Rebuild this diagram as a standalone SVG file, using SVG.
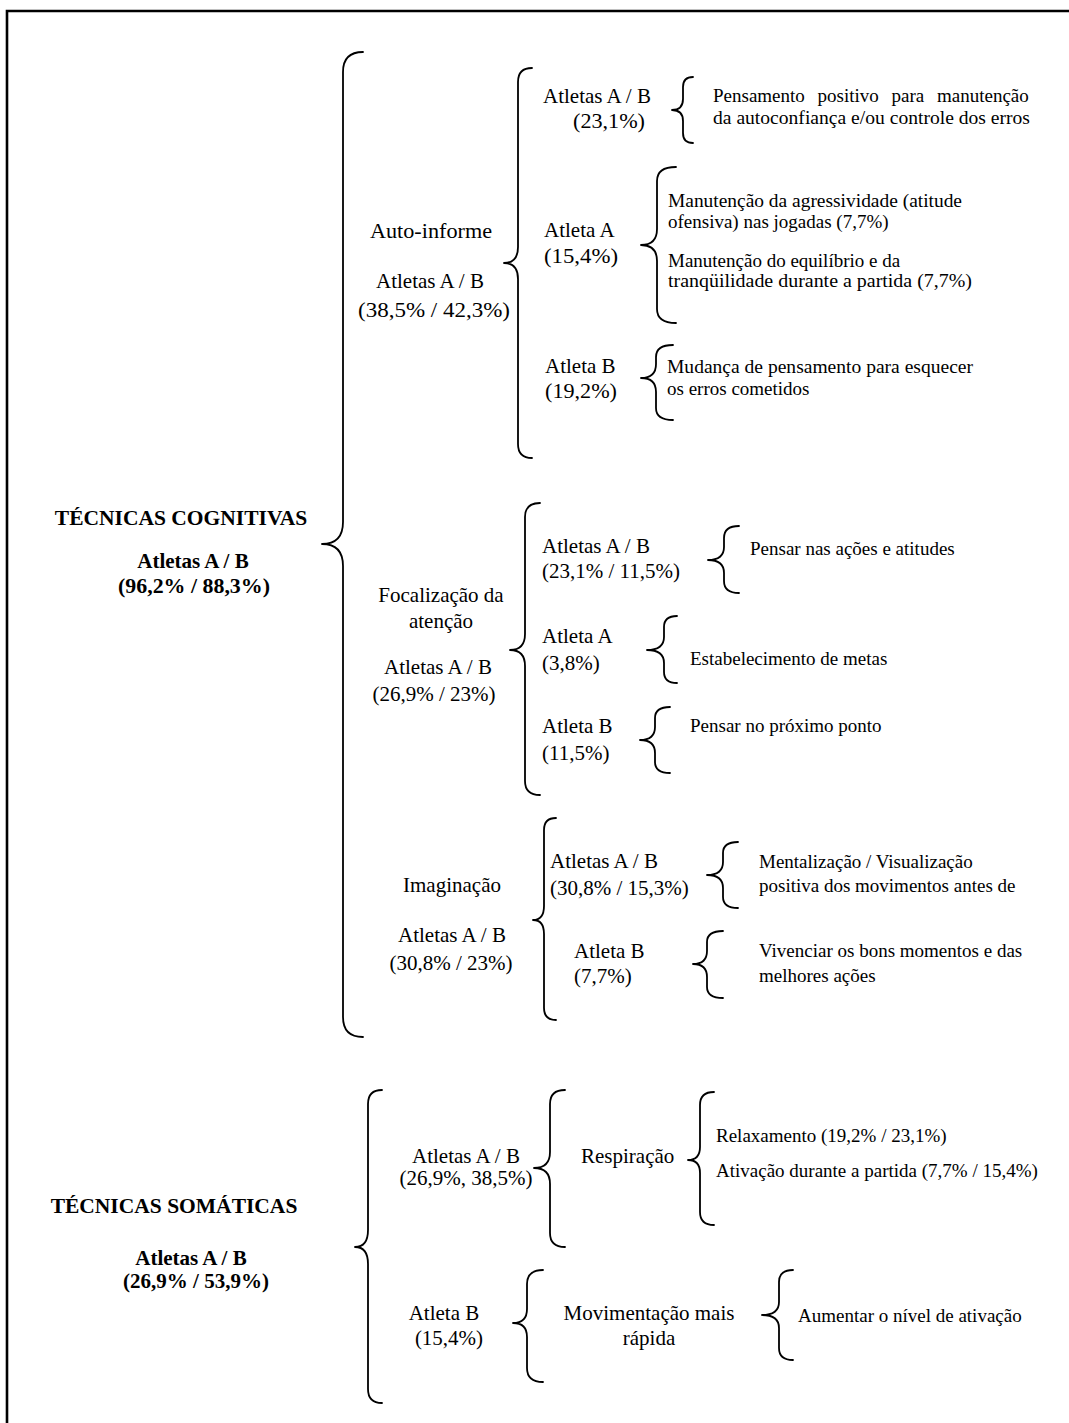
<svg xmlns="http://www.w3.org/2000/svg" width="1069" height="1423" viewBox="0 0 1069 1423">
<style>
text{font-family:"Liberation Serif","Times New Roman",serif;fill:#000}
.t{font-size:21px}
.s{font-size:19px}
.b{font-size:21px;font-weight:bold}
.h{font-size:21.5px;font-weight:bold}
.c{text-anchor:middle}
.br{fill:none;stroke:#000;stroke-width:1.8;stroke-linecap:round;stroke-linejoin:round}
.frame{fill:none;stroke:#000;stroke-width:2.6}
</style>
<rect width="1069" height="1423" fill="#fff"/>
<path class="frame" d="M7,1423 L7,11 L1069,11"/>
<g id="connectors">
<path class="br" d="M363,52 Q343,52 343,72 L343,522 Q343,544 322,544 Q343,544 343,566 L343,1017 Q343,1037 363,1037"/>
<path class="br" d="M532,68 Q518,68 518,82 L518,247 Q518,263 504,263 Q518,263 518,279 L518,444 Q518,458 532,458"/>
<path class="br" d="M693,77 Q683,77 683,87 L683,99 Q683,110 672,110 Q683,110 683,121 L683,133 Q683,143 693,143"/>
<path class="br" d="M676,167 Q657,167 657,181 L657,229 Q657,245 641,245 Q657,245 657,261 L657,309 Q657,323 676,323"/>
<path class="br" d="M673,345 Q656,345 656,357 L656,364 Q656,378 641,378 Q656,378 656,392 L656,408 Q656,420 673,420"/>
<path class="br" d="M540,503 Q525,503 525,517 L525,634 Q525,650 510,650 Q525,650 525,666 L525,781 Q525,795 540,795"/>
<path class="br" d="M739,526 Q724,526 724,538 L724,547 Q724,560 708,560 Q724,560 724,573 L724,581 Q724,593 739,593"/>
<path class="br" d="M677,616 Q664,616 664,627 L664,637 Q664,650 647,650 Q664,650 664,663 L664,672 Q664,683 677,683"/>
<path class="br" d="M670,707 Q655,707 655,718 L655,727 Q655,740 640,740 Q655,740 655,753 L655,762 Q655,773 670,773"/>
<path class="br" d="M556,818 Q544,818 544,830 L544,906 Q544,920 533,920 Q544,920 544,934 L544,1008 Q544,1020 556,1020"/>
<path class="br" d="M738,842 Q723,842 723,853 L723,862 Q723,875 707,875 Q723,875 723,888 L723,897 Q723,908 738,908"/>
<path class="br" d="M723,931 Q707,931 707,942 L707,951 Q707,964 693,964 Q707,964 707,977 L707,987 Q707,998 723,998"/>
<path class="br" d="M382,1090 Q368,1090 368,1104 L368,1230 Q368,1247 355,1247 Q368,1247 368,1264 L368,1389 Q368,1403 382,1403"/>
<path class="br" d="M565,1090 Q550,1090 550,1104 L550,1152 Q550,1168 534,1168 Q550,1168 550,1184 L550,1233 Q550,1247 565,1247"/>
<path class="br" d="M714,1092 Q700,1092 700,1105 L700,1147 Q700,1160 688,1160 Q700,1160 700,1173 L700,1212 Q700,1225 714,1225"/>
<path class="br" d="M543,1270 Q527,1270 527,1284 L527,1309 Q527,1323 513,1323 Q527,1323 527,1337 L527,1368 Q527,1382 543,1382"/>
<path class="br" d="M793,1270 Q779,1270 779,1282 L779,1302 Q779,1315 762,1315 Q779,1315 779,1328 L779,1348 Q779,1360 793,1360"/>
</g>
<g id="n-cognitivas">
<text class="h c" x="181" y="525">TÉCNICAS COGNITIVAS</text>
<text class="b c" x="193" y="568">Atletas A / B</text>
<text class="b c" x="194" y="593" textLength="152" lengthAdjust="spacingAndGlyphs">(96,2% / 88,3%)</text>
</g>
<g id="n-autoinforme">
<text class="t c" x="431" y="238" textLength="122" lengthAdjust="spacingAndGlyphs">Auto-informe</text>
<text class="t c" x="430" y="288">Atletas A / B</text>
<text class="t c" x="434" y="317" textLength="152" lengthAdjust="spacingAndGlyphs">(38,5% / 42,3%)</text>
</g>
<g id="n-ai-ab">
<text class="t" x="543" y="103">Atletas A / B</text>
<text class="t" x="573" y="128" textLength="72" lengthAdjust="spacingAndGlyphs">(23,1%)</text>
</g>
<g id="n-ai-ab-leaf">
<text class="s" x="713" y="102" word-spacing="8">Pensamento positivo para manutenção</text>
<text class="s" x="713" y="124" textLength="317" lengthAdjust="spacingAndGlyphs">da autoconfiança e/ou controle dos erros</text>
</g>
<g id="n-ai-a">
<text class="t" x="544" y="237">Atleta A</text>
<text class="t" x="544" y="263" textLength="74" lengthAdjust="spacingAndGlyphs">(15,4%)</text>
</g>
<g id="n-ai-a-leaf">
<text class="s" x="668" y="207" textLength="294" lengthAdjust="spacingAndGlyphs">Manutenção da agressividade (atitude</text>
<text class="s" x="668" y="228">ofensiva) nas jogadas (7,7%)</text>
<text class="s" x="668" y="267">Manutenção do equilíbrio e da</text>
<text class="s" x="668" y="287" textLength="304" lengthAdjust="spacingAndGlyphs">tranqüilidade durante a partida (7,7%)</text>
</g>
<g id="n-ai-b">
<text class="t" x="545" y="373">Atleta B</text>
<text class="t" x="545" y="398" textLength="72" lengthAdjust="spacingAndGlyphs">(19,2%)</text>
</g>
<g id="n-ai-b-leaf">
<text class="s" x="667" y="373" textLength="306" lengthAdjust="spacingAndGlyphs">Mudança de pensamento para esquecer</text>
<text class="s" x="667" y="395">os erros cometidos</text>
</g>
<g id="n-focalizacao">
<text class="t c" x="441" y="602">Focalização da</text>
<text class="t c" x="441" y="628">atenção</text>
<text class="t c" x="438" y="674">Atletas A / B</text>
<text class="t c" x="434" y="701">(26,9% / 23%)</text>
</g>
<g id="n-fo-ab">
<text class="t" x="542" y="553">Atletas A / B</text>
<text class="t" x="542" y="578">(23,1% / 11,5%)</text>
</g>
<g id="n-fo-ab-leaf"><text class="s" x="750" y="555">Pensar nas ações e atitudes</text></g>
<g id="n-fo-a">
<text class="t" x="542" y="643">Atleta A</text>
<text class="t" x="542" y="670">(3,8%)</text>
</g>
<g id="n-fo-a-leaf"><text class="s" x="690" y="665">Estabelecimento de metas</text></g>
<g id="n-fo-b">
<text class="t" x="542" y="733">Atleta B</text>
<text class="t" x="542" y="760">(11,5%)</text>
</g>
<g id="n-fo-b-leaf"><text class="s" x="690" y="732">Pensar no próximo ponto</text></g>
<g id="n-imaginacao">
<text class="t c" x="452" y="892">Imaginação</text>
<text class="t c" x="452" y="942">Atletas A / B</text>
<text class="t c" x="451" y="970">(30,8% / 23%)</text>
</g>
<g id="n-im-ab">
<text class="t" x="550" y="868">Atletas A / B</text>
<text class="t" x="550" y="895">(30,8% / 15,3%)</text>
</g>
<g id="n-im-ab-leaf">
<text class="s" x="759" y="868">Mentalização / Visualização</text>
<text class="s" x="759" y="892">positiva dos movimentos antes de</text>
</g>
<g id="n-im-b">
<text class="t" x="574" y="958">Atleta B</text>
<text class="t" x="574" y="983">(7,7%)</text>
</g>
<g id="n-im-b-leaf">
<text class="s" x="759" y="957">Vivenciar os bons momentos e das</text>
<text class="s" x="759" y="982">melhores ações</text>
</g>
<g id="n-somaticas">
<text class="h c" x="174" y="1213">TÉCNICAS SOMÁTICAS</text>
<text class="b c" x="191" y="1265">Atletas A / B</text>
<text class="b c" x="196" y="1288">(26,9% / 53,9%)</text>
</g>
<g id="n-so-ab">
<text class="t c" x="466" y="1163">Atletas A / B</text>
<text class="t c" x="466" y="1185">(26,9%, 38,5%)</text>
</g>
<g id="n-respiracao"><text class="t" x="581" y="1163">Respiração</text></g>
<g id="n-respiracao-leaf">
<text class="s" x="716" y="1142">Relaxamento (19,2% / 23,1%)</text>
<text class="s" x="716" y="1177">Ativação durante a partida (7,7% / 15,4%)</text>
</g>
<g id="n-so-b">
<text class="t c" x="444" y="1320">Atleta B</text>
<text class="t c" x="449" y="1345">(15,4%)</text>
</g>
<g id="n-movimentacao">
<text class="t c" x="649" y="1320">Movimentação mais</text>
<text class="t c" x="649" y="1345">rápida</text>
</g>
<g id="n-movimentacao-leaf"><text class="s" x="798" y="1322">Aumentar o nível de ativação</text></g>
</svg>
